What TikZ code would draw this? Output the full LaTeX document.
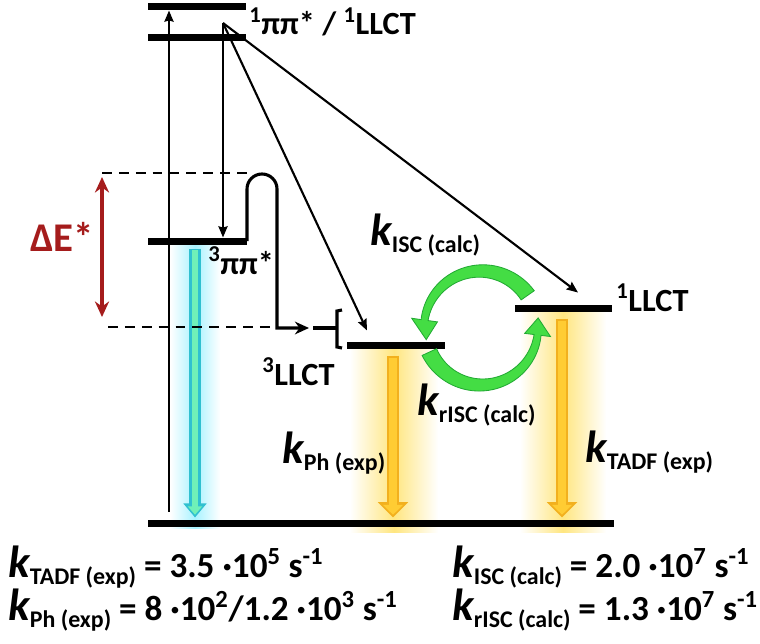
\documentclass[tikz,border=0pt]{standalone}
\usepackage{fontspec}
\setmainfont{Carlito}
\usetikzlibrary{arrows.meta,positioning,calc}

\definecolor{dered}{HTML}{A51C1C}
\definecolor{cyanedge}{HTML}{30C0D0}
\definecolor{cyanfill}{HTML}{70F0B8}
\definecolor{cyanglow}{HTML}{A8F2FF}
\definecolor{ylwedge}{HTML}{F2B01E}
\definecolor{ylwfill}{HTML}{FFCC33}
\definecolor{ylwglow}{HTML}{FFE680}
\definecolor{grnfill}{HTML}{44DD44}
\definecolor{grnedge}{HTML}{22AA33}

\newcommand{\pxl}{0.025cm}
\newcommand{\kr}[1]{{\fontsize{32}{32}\selectfont\itshape k}\raisebox{-5pt}{\fontsize{17}{17}\selectfont #1}}

\tikzset{
  level/.style={fill=black, inner sep=0pt, outer sep=0pt, minimum height=7*\pxl},
  arr/.style={line width=1.5pt, -{Stealth[length=8pt,width=6.5pt,inset=1pt]}},
  bumpline/.style={line width=2.2pt},
  dashline/.style={line width=1.2pt, dash pattern=on 7pt off 5pt},
  dearr/.style={dered, line width=2.2pt, {Stealth[length=11pt,width=10pt]}-{Stealth[length=11pt,width=10pt]}},
  lbl/.style={font=\fontsize{23}{27}\selectfont\bfseries, inner sep=0pt},
  sumlbl/.style={font=\fontsize{25}{29}\selectfont\bfseries, inner sep=0pt},
  grn/.style={fill=grnfill, draw=grnedge, line width=0.6pt},
}

\begin{document}
\begin{tikzpicture}[x=0.025cm, y=-0.025cm]
    \useasboundingbox[fill=white] (0,0) rectangle (760,643);

    % Glows
    \shade[left color=white, right color=white, middle color=cyanglow] (170,245) rectangle (220,528);
    \shade[left color=white, right color=white, middle color=ylwglow] (350,348) rectangle (438,532);
    \shade[left color=white, right color=white, middle color=ylwglow] (520,311) rectangle (606,532);

    % Levels
    \node[level, minimum width=98*\pxl] (Tn) at (197,7) {};
    \node[level, minimum width=98*\pxl] (S1) at (197,38) {};
    \node[level, minimum width=99*\pxl] (T1) at (197.5,241) {};
    \node[level, minimum width=98*\pxl] (T2) at (396,345) {};
    \node[level, minimum width=97*\pxl] (S2) at (563.5,308) {};
    \node[level, minimum width=466*\pxl] (G0) at (381,523) {};

    % Level labels
    \node[lbl, anchor=base west] (lS1) at (249,35) {\textsuperscript{1}ππ* / \textsuperscript{1}LLCT};
    \node[lbl, anchor=base west] (lT1) at (208,274) {\textsuperscript{3}ππ*};
    \node[lbl, anchor=base west] (lT2) at (262,385) {\textsuperscript{3}LLCT};
    \node[lbl, anchor=base west] (lS2) at (616,311) {\textsuperscript{1}LLCT};
    \node[lbl, font=\fontsize{29}{33}\selectfont\bfseries, text=dered, anchor=base west] (dE) at (30,251) {ΔE*};

    % Emission arrows
    \coordinate (e1) at ($(T1.south west)+(47,0)$);
    \coordinate (e2) at ($(T2.south west)+(46,0)$);
    \coordinate (e3) at ($(S2.south west)+(47,0)$);
    \draw[cyanedge, line width=8.5pt, shorten <=3pt, -{Triangle[length=10pt,width=16pt]}] (e1) -- ($(e1 |- G0.north)+(0,-2)$);
    \draw[cyanfill, line width=4pt, shorten <=4pt, shorten >=2pt, -{Triangle[length=6pt,width=10pt]}] (e1) -- ($(e1 |- G0.north)+(0,-2)$);
    \draw[ylwedge, line width=9.2pt, shorten <=5pt, -{Triangle[length=11pt,width=21pt]}] (e2) -- ($(e2 |- G0.north)+(0,-2)$);
    \draw[ylwfill, line width=5.2pt, shorten <=6.5pt, shorten >=2pt, -{Triangle[length=7pt,width=14pt]}] (e2) -- ($(e2 |- G0.north)+(0,-2)$);
    \draw[ylwedge, line width=9.2pt, shorten <=5pt, -{Triangle[length=11pt,width=21pt]}] (e3) -- ($(e3 |- G0.north)+(0,-2)$);
    \draw[ylwfill, line width=5.2pt, shorten <=6.5pt, shorten >=2pt, -{Triangle[length=7pt,width=14pt]}] (e3) -- ($(e3 |- G0.north)+(0,-2)$);

    % Absorption and relaxation
    \coordinate (ab) at ($(G0.north west)+(21,-8)$);
    \draw[arr] (ab) -- (ab |- Tn.south);
    \coordinate (src) at (223,23);
    \draw[arr] (src) -- (src |- T1.north);
    \draw[arr] (src) -- ($(T2.north west)+(20,-11)$);
    \draw[arr] (src) -- ($(S2.north west)+(63,-12)$);

    % Energy gap
    \coordinate (dtop) at (102,173);
    \coordinate (dbot) at (108,327);
    \draw[dashline] (dtop) -- (250,173);
    \draw[dashline] (dbot) -- (277,327);
    \draw[dearr] ($(dtop)+(0,4)$) -- ($(dtop |- dbot)+(0,-10)$);

    % Thermal path 3pipi* -> 3LLCT
    \coordinate (brk) at (337,328);
    \draw[bumpline, -{Stealth[length=10pt,width=9pt]}] (T1.east) -- (247,189) arc[start angle=180, end angle=360, radius=15] -- (277,328) -- ($(brk)+(-28,0)$);
    \draw[bumpline] ($(brk)+(-24,0)$) -- (brk);
    \draw[bumpline] ($(brk)+(5,-18)$) -- ($(brk)+(0,-17)$) -- ($(brk)+(0,19)$) -- ($(brk)+(5,20)$);

    % ISC / rISC cycle
    \fill[grn] plot[domain=35:172, samples=40] ({481+(57+8-4.5*(\x-35)/137)*cos(\x)}, {328-(57+8-4.5*(\x-35)/137)*sin(\x)})
        -- ({481+70*cos(172)}, {328-70*sin(172)}) -- ({481+56*cos(192)}, {328-56*sin(192)}) -- ({481+44*cos(172)}, {328-44*sin(172)})
        -- plot[domain=172:35, samples=40] ({481+(57-8+4.5*(\x-35)/137)*cos(\x)}, {328-(57-8+4.5*(\x-35)/137)*sin(\x)}) -- cycle;
    \fill[grn] plot[domain=205:353, samples=40] ({481+(57+8-4.5*(\x-205)/148)*cos(\x)}, {328-(57+8-4.5*(\x-205)/148)*sin(\x)})
        -- ({481+70*cos(353)}, {328-70*sin(353)}) -- ({481+58*cos(370)}, {328-58*sin(370)}) -- ({481+44*cos(353)}, {328-44*sin(353)})
        -- plot[domain=353:205, samples=40] ({481+(57-8+4.5*(\x-205)/148)*cos(\x)}, {328-(57-8+4.5*(\x-205)/148)*sin(\x)}) -- cycle;

    % Rate labels
    \node[lbl, anchor=base west] (kisc) at (370,245) {\kr{ISC (calc)}};
    \node[lbl, anchor=base west] (krisc) at (417,415) {\kr{rISC (calc)}};
    \node[lbl, anchor=base west] (kph) at (282,463) {\kr{Ph (exp)}};
    \node[lbl, anchor=base west] (ktadf) at (585,462) {\kr{TADF (exp)}};

    % Rate values
    \node[sumlbl, anchor=base west] (v1) at (8,577) {\kr{TADF (exp)} = 3.5 ·10\textsuperscript{5} s\textsuperscript{-1}};
    \node[sumlbl, anchor=base west] (v2) at (8,620) {\kr{Ph (exp)} = 8 ·10\textsuperscript{2}/1.2 ·10\textsuperscript{3} s\textsuperscript{-1}};
    \node[sumlbl, anchor=base west] (v3) at (452,577) {\kr{ISC (calc)} = 2.0 ·10\textsuperscript{7} s\textsuperscript{-1}};
    \node[sumlbl, anchor=base west] (v4) at (452,620) {\kr{rISC (calc)} = 1.3 ·10\textsuperscript{7} s\textsuperscript{-1}};
\end{tikzpicture}
\end{document}
